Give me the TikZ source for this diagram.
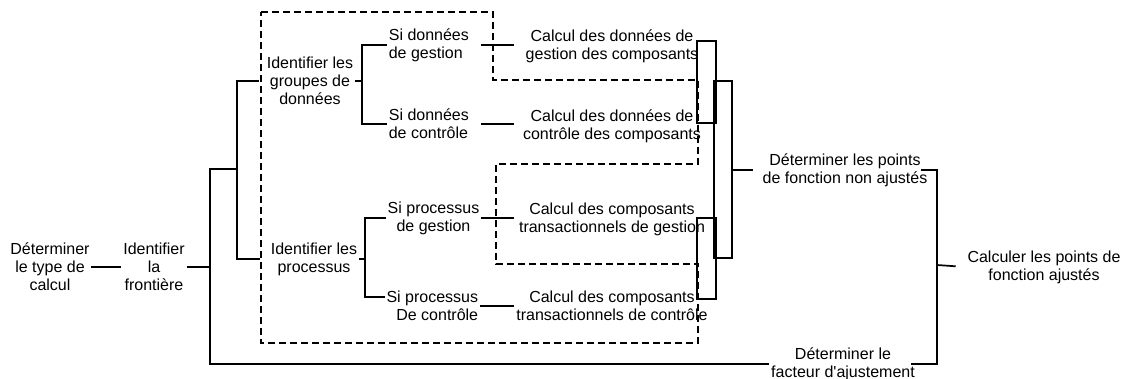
\documentclass[tikz,border=0pt]{standalone}
\usepackage{fontspec}
\setmainfont{Liberation Sans}[Ligatures=TeXOff]

\begin{document}
\begin{tikzpicture}[x=1pt, y=-1pt, line width=1.7pt,
        lbl/.style={inner sep=1pt, align=center, font=\fontsize{16}{18}\selectfont},
        branch/.style={lbl, minimum width=93pt},
        task/.style={lbl, minimum width=194pt},
        zone/.style={dashed, line width=1.3pt, dash pattern=on 7pt off 4pt}]
            \useasboundingbox (0, 0) rectangle (1125, 379);

            % Left part
            \node (type) at (50, 267) [lbl] {Déterminer\\le type de\\calcul};
            \node (front) at (154, 267) [lbl] {Identifier\\la\\frontière};
            \node (grp) at (310, 81) [lbl] {Identifier les\\groupes de\\données};
            \node (proc) at (314, 259) [lbl] {Identifier les\\processus};

            % Branches
            \node (sdg) at (387, 45) [lbl, anchor=west, align=left] {Si données\\de gestion};
            \node (sdc) at (387, 124) [lbl, anchor=west, align=left] {Si données\\de contrôle};
            \node (spg) at (433.5, 218) [branch] {Si processus\\de gestion};
            \node (spc) at (480, 306) [lbl, anchor=east, align=right] {Si processus\\De contrôle};

            % Calculs
            \node (cdg) at (612, 46) [task] {Calcul des données de\\gestion des composants};
            \node (cdc) at (612, 126) [task] {Calcul des données de\\contrôle des composants};
            \node (ctg) at (612, 219) [task] {Calcul des composants\\transactionnels de gestion};
            \node (ctc) at (612, 306) [task] {Calcul des composants\\transactionnels de contrôle};

            % Right part
            \node (pts) at (845, 170) [lbl] {Déterminer les points\\de fonction non ajustés};
            \node (fact) at (843, 364) [lbl] {Déterminer le\\facteur d'ajustement};
            \node (calc) at (1044, 267) [lbl] {Calculer les points de\\fonction ajustés};

            \coordinate (jfront) at (210, 267);
            \coordinate (jid) at (237, 169);
            \coordinate (jgrp) at (362, 81);
            \coordinate (jproc) at (365, 259);
            \coordinate (jpts) at (732, 170);
            \coordinate (jcalc) at (937, 265);

            % dashed zone
            \draw [zone] (261, 12) -- (493, 12) -- (493, 80) -- (698, 80) -- (698, 164)
                -- (496, 164) -- (496, 264) -- (698, 264) -- (698, 343) -- (261, 343) -- cycle;

            \draw (type.east) -- (front.west);
            \draw (front.east) -- (jfront);
            \draw (fact.west) -| (jfront) |- (jid);
            \draw [shorten <=6pt, shorten >=9pt] (grp.west) -| (jid) |- (proc.west);

            \draw (grp.east) -- (jgrp);
            \draw (sdg.west) -| (jgrp) |- (sdc.west);
            \draw (proc.east) -- (jproc);
            \draw (spg.west) -| (jproc) |- ([yshift=9pt]spc.west);

            \draw (sdg.east -| spg.east) -- (sdg.east -| cdg.west);
            \draw (sdc.east -| spg.east) -- (sdc.east -| cdc.west);
            \draw (spg.east) -- (spg.east -| ctg.west);
            \draw (spc.east) -- (spc.east -| ctc.west);

            % brackets
            \coordinate (b1) at (697, 41);
            \coordinate (b2) at (716, 123);
            \coordinate (b3) at (714, 81);
            \coordinate (b4) at (732, 258);
            \coordinate (b5) at (697, 218);
            \coordinate (b6) at (716, 299);
            \draw (b1) rectangle (b2);
            \draw (b3) rectangle (b4);
            \draw (b5) rectangle (b6);

            \draw [shorten >=8pt] (jpts) -- (pts.west);
            \draw [shorten <=-8pt, shorten >=-6pt] (pts.east) -| (jcalc) |- (fact.east);
            \draw [shorten >=10pt] (jcalc) -- (calc.west);
        \end{tikzpicture}
\end{document}
